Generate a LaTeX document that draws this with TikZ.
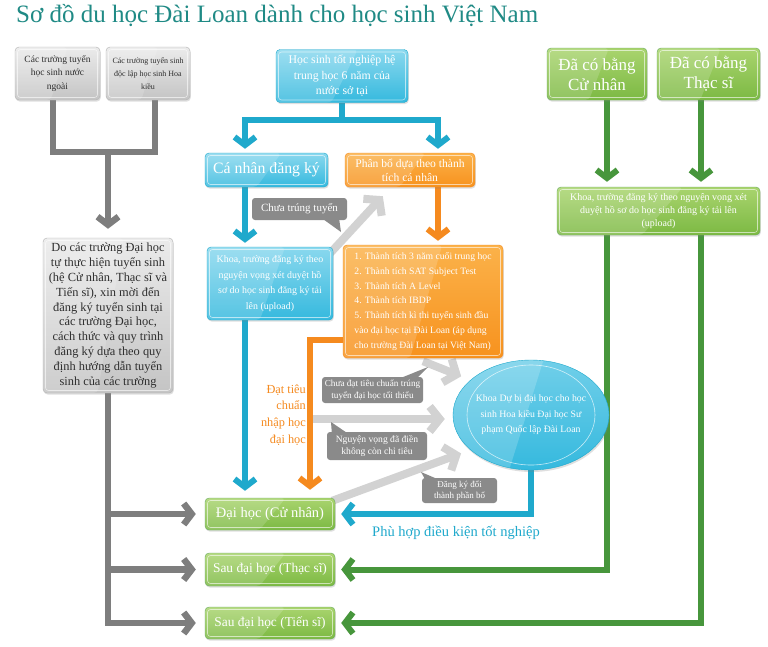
\documentclass[tikz,border=0pt]{standalone}
\usepackage{fontspec}
\setmainfont{Liberation Serif}
\usetikzlibrary{arrows.meta,shapes.geometric,shadows,calc}
\definecolor{titlec}{HTML}{1F8A85}
\definecolor{bl}{HTML}{1FA9CC}
\definecolor{bltop}{HTML}{8AD8EE}
\definecolor{blbot}{HTML}{35B9DE}
\definecolor{orl}{HTML}{F58A1F}
\definecolor{ortop}{HTML}{FBB24A}
\definecolor{orbot}{HTML}{F7921E}
\definecolor{grl}{HTML}{47963C}
\definecolor{grtop}{HTML}{A9D46E}
\definecolor{grbot}{HTML}{7CB943}
\definecolor{gyl}{HTML}{7E7E7E}
\definecolor{gytop}{HTML}{EBEBEB}
\definecolor{gybot}{HTML}{C4C4C4}
\definecolor{callc}{HTML}{8A8A8A}
\definecolor{lgy}{HTML}{D2D2D2}
\definecolor{txd}{HTML}{2E2E2E}
\pgfdeclarelayer{bg}
\pgfsetlayers{bg,main}
\begin{document}
\begin{tikzpicture}[x=1pt,y=-1pt,
  chev/.style={-{Straight Barb[length=8pt,width=21pt]}},
  lchev/.style={-{Straight Barb[length=10pt,width=25pt]}},
  gloss/.style={path picture={
    \fill[white,opacity=0.16] (path picture bounding box.north west) -- ($(path picture bounding box.north west)!0.62!(path picture bounding box.north east)$) -- ($(path picture bounding box.south west)!0.42!(path picture bounding box.south east)$) -- (path picture bounding box.south west) -- cycle;
    \draw[white,opacity=0.6,line width=0.6pt,rounded corners=3pt] ([shift={(2.5pt,-2.5pt)}]path picture bounding box.north west) rectangle ([shift={(-2.5pt,2.5pt)}]path picture bounding box.south east);}},
  box/.style={rectangle, rounded corners=4pt, inner sep=1pt, align=center, gloss, drop shadow={opacity=0.25,shadow xshift=0.8pt,shadow yshift=-1.6pt}},
  gbox/.style={box, draw=gyl!60, top color=gytop, bottom color=gybot, text=txd},
  bbox/.style={box, draw=bl, top color=bltop, bottom color=blbot, text=white},
  obox/.style={box, draw=orl, top color=ortop, bottom color=orbot, text=white},
  grbox/.style={box, draw=grl!80, top color=grtop, bottom color=grbot, text=white},
  callout/.style={rectangle, rounded corners=3pt, fill=callc, text=white, align=center, inner sep=1pt},
  gyline/.style={draw=gyl, line width=6.5pt},
  bline/.style={draw=bl, line width=6pt},
  oline/.style={draw=orl, line width=6pt},
  grline/.style={draw=grl, line width=6pt},
  lgline/.style={draw=lgy, line width=8pt},
]
\useasboundingbox (0,0) rectangle (768,646);
\node[anchor=west, text=titlec, font=\fontsize{25}{30}\selectfont, inner sep=0] (title) at (16,16) {Sơ đồ du học Đài Loan dành cho học sinh Việt Nam};

% grey column
\node[gbox, minimum width=85, minimum height=53, font=\fontsize{9.5}{13.5}\selectfont] (g1) at (57.5,73.5) {Các trường tuyển\\học sinh nước\\ngoài};
\node[gbox, minimum width=84, minimum height=53, font=\fontsize{8}{13}\selectfont] (g2) at (148,73.5) {Các trường tuyển sinh\\độc lập học sinh Hoa\\kiều};
\node[gbox, minimum width=130, minimum height=155, font=\fontsize{12.4}{14.8}\selectfont] (B) at (108,315.5) {Do các trường Đại học\\tự thực hiện tuyển sinh\\(hệ Cử nhân, Thạc sĩ và\\Tiến sĩ), xin mời đến\\đăng ký tuyển sinh tại\\các trường Đại học,\\cách thức và quy trình\\đăng ký dựa theo quy\\định hướng dẫn tuyển\\sinh của các trường};

% blue / orange column
\node[bbox, minimum width=132, minimum height=53, font=\fontsize{11.8}{15.5}\selectfont] (T) at (342,76) {Học sinh tốt nghiệp hệ\\trung học 6 năm của\\nước sở tại};
\node[bbox, minimum width=123, minimum height=34, font=\fontsize{15.8}{17}\selectfont] (C) at (266.5,170) {Cá nhân đăng ký};
\node[obox, minimum width=130, minimum height=34, font=\fontsize{11.6}{14}\selectfont] (P) at (410,170) {Phân bổ dựa theo thành\\tích cá nhân};
\node[bbox, minimum width=126, minimum height=73, font=\fontsize{9.9}{15.5}\selectfont] (K) at (270,283.5) {Khoa, trường đăng ký theo\\nguyện vọng xét duyệt hồ\\sơ do học sinh đăng ký tải\\lên (upload)};
\node[obox, minimum width=160, minimum height=113, align=left, font=\fontsize{9.7}{14.7}\selectfont] (L) at (423,301.5) {1. Thành tích 3 năm cuối trung học\\2. Thành tích SAT Subject Test\\3. Thành tích A Level\\4. Thành tích IBDP\\5. Thành tích kì thi tuyển sinh đầu\\vào đại học tại Đài Loan (áp dụng\\cho trường Đài Loan tại Việt Nam)};

% callouts
\node[callout, minimum width=95, minimum height=22, font=\fontsize{11}{12}\selectfont] (cu) at (299.5,209) {Chưa trúng tuyển};
\node[callout, minimum width=101, minimum height=26, font=\fontsize{9.2}{11.5}\selectfont] (ca) at (372.5,390) {Chưa đạt tiêu chuẩn trúng\\tuyển đại học tối thiểu};
\node[callout, minimum width=100, minimum height=28, font=\fontsize{9.6}{12.5}\selectfont] (cb) at (377,446) {Nguyện vọng đã điền\\không còn chỉ tiêu};
\node[callout, minimum width=75, minimum height=25, font=\fontsize{9}{11}\selectfont] (cc) at (459.5,490.5) {Đăng ký đổi\\thành phần bổ};
\coordinate (tu) at (341,232);
\coordinate (ta) at (428,367);
\coordinate (tb) at (331,422);
\coordinate (tc) at (421,472);
\fill[callc] ([shift={(-24pt,1pt)}]cu.south east) -- (tu) -- ([shift={(-8pt,1pt)}]cu.south east) -- cycle;
\fill[callc] ([shift={(-22pt,-1pt)}]ca.north east) -- (ta) -- ([shift={(-6pt,-1pt)}]ca.north east) -- cycle;
\fill[callc] ([shift={(5pt,-1pt)}]cb.north west) -- (tb) -- ([shift={(20pt,-1pt)}]cb.north west) -- cycle;
\fill[callc] ([shift={(3pt,-1pt)}]cc.north west) -- (tc) -- ([shift={(15pt,-1pt)}]cc.north west) -- cycle;

% ellipse
\node[ellipse, minimum width=138, minimum height=110, inner sep=0, top color=bltop!70!blbot, bottom color=blbot, draw=bl, text=white, align=center, font=\fontsize{9.8}{15.5}\selectfont, drop shadow={opacity=0.25,shadow xshift=0.8pt,shadow yshift=-2pt},
  path picture={
    \fill[white,opacity=0.18] (path picture bounding box.north west) -- ($(path picture bounding box.north west)!0.58!(path picture bounding box.north east)$) -- ($(path picture bounding box.south west)!0.36!(path picture bounding box.south east)$) -- (path picture bounding box.south west) -- cycle;
    \draw[white,opacity=0.7,line width=0.6pt] (path picture bounding box.center) ellipse [x radius=64pt, y radius=50pt];}] (E) at (531,415) {Khoa Dự bị đại học cho học\\sinh Hoa kiều Đại học Sư\\phạm Quốc lập Đài Loan};

% green column
\node[grbox, minimum width=100, minimum height=52, font=\fontsize{17}{20}\selectfont] (A1) at (597,74) {Đã có bằng\\Cử nhân};
\node[grbox, minimum width=103, minimum height=52, font=\fontsize{17}{20}\selectfont] (A2) at (708.5,74) {Đã có bằng\\Thạc sĩ};
\node[grbox, minimum width=203, minimum height=48, font=\fontsize{10}{13.3}\selectfont] (G) at (658.5,211) {Khoa, trường đăng ký theo nguyện vọng xét\\duyệt hồ sơ do học sinh đăng ký tải lên\\(upload)};

% results
\node[grbox, minimum width=130, minimum height=32, font=\fontsize{14.5}{16}\selectfont] (d1) at (270,514) {Đại học (Cử nhân)};
\node[grbox, minimum width=130, minimum height=33, font=\fontsize{13.4}{15}\selectfont] (d2) at (270,569.5) {Sau đại học (Thạc sĩ)};
\node[grbox, minimum width=130, minimum height=32, font=\fontsize{13.4}{15}\selectfont] (d3) at (270,623) {Sau đại học (Tiến sĩ)};

% labels
\node[text=bl, font=\fontsize{14.5}{16}\selectfont, inner sep=0] (lb) at (456,533) {Phù hợp điều kiện tốt nghiệp};
\node[anchor=east, align=right, text=orl, font=\fontsize{12.3}{16.7}\selectfont, inner sep=0] (ol) at (306,415) {Đạt tiêu\\chuẩn\\nhập học\\đại học};

\coordinate (j1) at (53,152);
\coordinate (j2) at (155,152);
\coordinate (bx) at (245,120);
\coordinate (ox) at (438,120);
\coordinate (oc) at (310,340);
\coordinate (gx1) at (607,0);
\coordinate (gx2) at (701,0);

\begin{pgfonlayer}{bg}
\fill[white] (0,0) rectangle (768,646);
% grey
\draw[gyline] (g1.south -| j1) |- (j2) -- (g2.south -| j2);
\draw[gyline,chev,shorten >=9pt] (B.north |- j1) -- (B.north);
\draw[gyline,chev,shorten >=9pt] (B.south) |- (d3.west);
\draw[gyline,chev,shorten >=9pt] (B.south |- d1.west) -- (d1.west);
\draw[gyline,chev,shorten >=9pt] (B.south |- d2.west) -- (d2.west);
% light grey
\draw[lgline,lchev] ($(K.north east)+(-11,15)$) -- ($(P.south west)+(38,9)$);
\draw[lgline,lchev,shorten >=10pt] ($(L.south)+(0,3)$) -- (E.150);
\draw[lgline,lchev,shorten >=8pt] ($(oc|-E.west)+(3,4)$) -- ($(E.west)+(0,4)$);
\draw[lgline,lchev,shorten >=10pt] ($(d1.north east)+(-3,3)$) -- (E.210);
% blue
\draw[bline] (T.south) -- (T.south |- bx);
\draw[bline,chev,shorten >=4pt] (T.south |- bx) -| (C.north -| bx);
\draw[bline,chev,shorten >=4pt] (T.south |- bx) -| (P.north -| ox);
\draw[bline,chev,shorten >=4pt] (C.south -| bx) -- (K.north -| bx);
\draw[bline,chev,shorten >=7pt] (K.south -| bx) -- (d1.north -| bx);
\draw[bline,chev,shorten >=6pt] (E.south) |- (d1.east);
% orange
\draw[oline,chev,shorten >=4pt] (P.south -| ox) -- (L.north -| ox);
\draw[oline,chev,shorten >=8pt] (L.west |- oc) -| (d1.north -| oc);
% green
\draw[grline,chev,shorten >=5pt] (A1.south -| gx1) -- (G.north -| gx1);
\draw[grline,chev,shorten >=5pt] (A2.south -| gx2) -- (G.north -| gx2);
\draw[grline,chev,shorten >=6pt] (G.south -| gx1) |- (d2.east);
\draw[grline,chev,shorten >=6pt] (G.south -| gx2) |- (d3.east);
\end{pgfonlayer}
\end{tikzpicture}
\end{document}
